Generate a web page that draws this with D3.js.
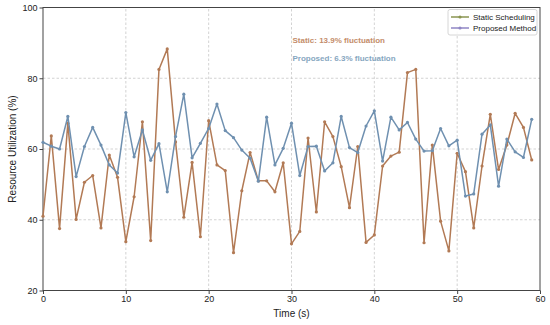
<!DOCTYPE html>
<html>
<head>
<meta charset="utf-8">
<script src="https://cdn.jsdelivr.net/npm/d3@7"></script>
<style>
  body { margin: 0; background: #fff; }
  text { font-family: "Liberation Sans", Arial, sans-serif; }
</style>
</head>
<body>
<svg id="chart"></svg>
<script>
// Time steps (s)
var times = d3.range(0, 60);

// Utilization per second
var staticVals = [41, 63.7, 37.5, 67.3, 40.1, 50.6, 52.5, 37.7, 58.3, 52, 33.8, 46.5,
  67.7, 34.1, 82.5, 88.3, 62, 40.7, 56.2, 35.2, 68, 55.5, 53.9, 30.7, 48.2, 59,
  51, 51, 47.9, 56.1, 33.2, 36.7, 63.1, 42.2, 67.7, 63.5, 55, 43.4, 60.7, 33.6,
  35.7, 55.2, 58, 59.1, 81.6, 82.5, 33.5, 61.1, 39.6, 31.2, 58.8, 53.6, 37.7,
  55.2, 69.8, 54.2, 61.1, 70.1, 66.1, 56.9];

var proposedVals = [61.9, 60.8, 60, 69.2, 52.2, 60.7, 66.1, 61.1, 55.5, 53.2, 70.3,
  57.8, 65.4, 56.8, 61.5, 47.9, 63.5, 75.5, 57.5, 61.6, 65.8, 72.7, 65.2, 63.2,
  59.7, 57.4, 50.9, 69, 55.5, 60.2, 67.3, 52.5, 60.7, 60.8, 53.8, 56.1, 69.2,
  60.4, 59, 66.5, 70.8, 56.6, 69, 65.4, 67.5, 62.8, 59.4, 59.5, 65.8, 60.9,
  62.5, 46.7, 47.3, 64.2, 66.8, 49.5, 62.8, 59.2, 57.6, 68.4];

var xTicks = [0, 10, 20, 30, 40, 50, 60];
var yTicks = [20, 40, 60, 80, 100];

var seriesNames = ["Static Scheduling", "Proposed Method"];
var notes = ["Static: 13.9% fluctuation", "Proposed: 6.3% fluctuation"];

// Size and margins
var width = 550,
  height = 325,
  margin = { top: 7.5, right: 10, bottom: 34.5, left: 43 };

var svg = d3.select("#chart")
  .attr("width", width)
  .attr("height", height);

var x = d3.scaleLinear().domain([0, 60]).range([margin.left, width - margin.right]);
var y = d3.scaleLinear().domain([20, 100]).range([height - margin.bottom, margin.top]);

// Grid lines
svg.append("g")
  .selectAll("line.vg")
  .data(xTicks.slice(1, -1))
  .enter()
  .append("line")
  .attr("x1", function (d) { return x(d); })
  .attr("x2", function (d) { return x(d); })
  .attr("y1", y(20))
  .attr("y2", y(100))
  .attr("stroke", "#c8c8c8")
  .attr("stroke-width", 0.8)
  .attr("stroke-dasharray", "2.5,2");

svg.append("g")
  .selectAll("line.hg")
  .data(yTicks.slice(1, -1))
  .enter()
  .append("line")
  .attr("x1", x(0))
  .attr("x2", x(60))
  .attr("y1", function (d) { return y(d); })
  .attr("y2", function (d) { return y(d); })
  .attr("stroke", "#c8c8c8")
  .attr("stroke-width", 0.8)
  .attr("stroke-dasharray", "2.5,2");

// Axes
var xAxis = svg.append("g")
  .attr("transform", "translate(0," + y(20) + ")")
  .call(d3.axisBottom(x).tickValues(xTicks).tickSize(3.5).tickPadding(2));

var yAxis = svg.append("g")
  .attr("transform", "translate(" + x(0) + ",0)")
  .call(d3.axisLeft(y).tickValues(yTicks).tickSize(3.5).tickPadding(2));

[xAxis, yAxis].forEach(function (a) {
  a.selectAll("text").attr("font-size", 9).attr("fill", "#222")
    .style("font-family", "'Liberation Sans', Arial, sans-serif");
  a.selectAll("line").attr("stroke", "#444");
  a.select(".domain").remove();
});

// Frame
svg.append("rect")
  .attr("x", x(0))
  .attr("y", y(100))
  .attr("width", x(60) - x(0))
  .attr("height", y(20) - y(100))
  .attr("fill", "none")
  .attr("stroke", "#444")
  .attr("stroke-width", 1);

// Lines and markers
var lineColours = ["#b27a55", "#6f90b0"];
var allSeries = [staticVals, proposedVals];

var line = d3.line()
  .x(function (d, i) { return x(times[i]); })
  .y(function (d) { return y(d); });

allSeries.forEach(function (vals, s) {
  svg.append("path")
    .datum(vals)
    .attr("d", line)
    .attr("fill", "none")
    .attr("stroke", lineColours[s])
    .attr("stroke-width", 1.5)
    .attr("stroke-linejoin", "round");

  svg.append("g")
    .selectAll("circle")
    .data(vals)
    .enter()
    .append("circle")
    .attr("cx", function (d, i) { return x(times[i]); })
    .attr("cy", function (d) { return y(d); })
    .attr("r", 1.6)
    .attr("fill", lineColours[s]);
});

// Fluctuation notes
var noteColours = ["#c48d6a", "#86a6c0"];
notes.forEach(function (t, i) {
  svg.append("text")
    .attr("x", x(30) + 1)
    .attr("y", 43 + i * 17.5)
    .attr("font-size", 8)
    .attr("font-weight", "bold")
    .attr("fill", noteColours[i])
    .text(t);
});

// Legend
var legendColours = ["#8a9550", "#8f86c4"];
var legend = svg.append("g");
legend.append("rect")
  .attr("x", 448)
  .attr("y", 9.5)
  .attr("width", 89)
  .attr("height", 25.5)
  .attr("rx", 2)
  .attr("fill", "#fff")
  .attr("fill-opacity", 0.85)
  .attr("stroke", "#ccc")
  .attr("stroke-width", 0.8);

seriesNames.forEach(function (name, i) {
  var ly = 17 + i * 11;
  legend.append("line")
    .attr("x1", 451)
    .attr("x2", 469)
    .attr("y1", ly)
    .attr("y2", ly)
    .attr("stroke", legendColours[i])
    .attr("stroke-width", 1.5);
  legend.append("circle")
    .attr("cx", 460)
    .attr("cy", ly)
    .attr("r", 1.6)
    .attr("fill", legendColours[i]);
  legend.append("text")
    .attr("x", 473)
    .attr("y", ly + 3)
    .attr("font-size", 8)
    .attr("fill", "#222")
    .text(name);
});

// Axis titles
svg.append("text")
  .attr("x", (x(0) + x(60)) / 2)
  .attr("y", 317)
  .attr("text-anchor", "middle")
  .attr("font-size", 10)
  .attr("fill", "#222")
  .text("Time (s)");

svg.append("text")
  .attr("transform", "translate(16," + (y(20) + y(100)) / 2 + ") rotate(-90)")
  .attr("text-anchor", "middle")
  .attr("font-size", 10)
  .attr("fill", "#222")
  .text("Resource Utilization (%)");
</script>
</body>
</html>
